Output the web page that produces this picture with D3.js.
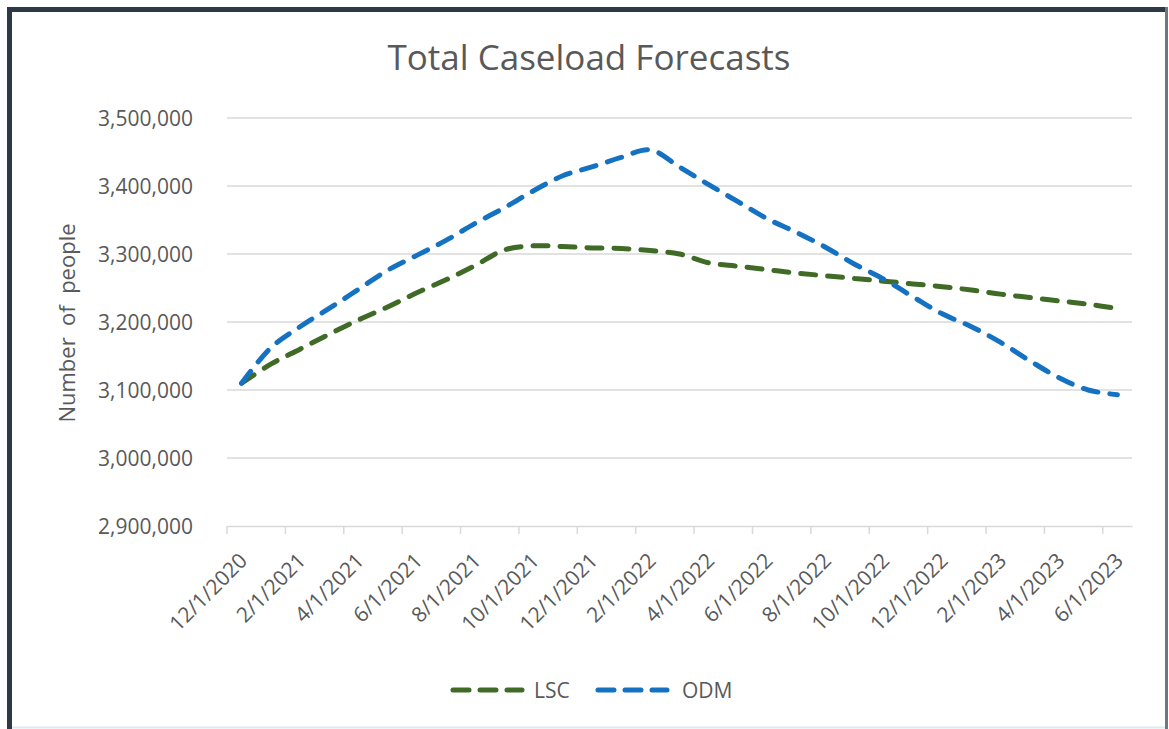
<!DOCTYPE html>
<html>
<head>
<meta charset="utf-8">
<script src="https://cdn.jsdelivr.net/npm/d3@7"></script>
<style>
  body { margin: 0; background: #fff; }
  svg { display: block; font-family: "Open Sans", sans-serif; }
</style>
</head>
<body>
<svg id="chart" width="1169" height="729"></svg>
<script>
// monthly points, Dec 2020 .. Jun 2023
const months = [
  "12/1/2020", "1/1/2021", "2/1/2021", "3/1/2021", "4/1/2021", "5/1/2021", "6/1/2021",
  "7/1/2021", "8/1/2021", "9/1/2021", "10/1/2021", "11/1/2021", "12/1/2021",
  "1/1/2022", "2/1/2022", "3/1/2022", "4/1/2022", "5/1/2022", "6/1/2022",
  "7/1/2022", "8/1/2022", "9/1/2022", "10/1/2022", "11/1/2022", "12/1/2022",
  "1/1/2023", "2/1/2023", "3/1/2023", "4/1/2023", "5/1/2023", "6/1/2023"
];

const lsc = [
  3110000, 3138000, 3160000, 3182000, 3203000, 3222000, 3243000,
  3262000, 3283000, 3306000, 3312000, 3311000, 3309000,
  3308000, 3305000, 3300000, 3287000, 3282000, 3277000,
  3272000, 3268000, 3264000, 3260000, 3256000, 3252000,
  3247000, 3241000, 3236000, 3231000, 3226000, 3220000
];

const odm = [
  3110000, 3162000, 3193000, 3220000, 3248000, 3276000, 3298000,
  3320000, 3345000, 3368000, 3393000, 3415000, 3428000,
  3442000, 3453000, 3428000, 3402000, 3377000, 3352000,
  3332000, 3310000, 3285000, 3263000, 3237000, 3212000,
  3193000, 3170000, 3143000, 3118000, 3100000, 3093000
];

const yTicks = [2900000, 3000000, 3100000, 3200000, 3300000, 3400000, 3500000];

const seriesNames = ["LSC", "ODM"];
const seriesColors = ["#3f6b27", "#1572c2"];

const svg = d3.select("#chart");

// frame of the screenshot
svg.append("rect").attr("x", 7).attr("y", 7).attr("width", 5).attr("height", 722).attr("fill", "#2d3947");
svg.append("rect").attr("x", 7).attr("y", 7).attr("width", 1161).attr("height", 5).attr("fill", "#2d3947");
svg.append("rect").attr("x", 1165).attr("y", 7).attr("width", 3).attr("height", 722).attr("fill", "#6f7780");
svg.append("line").attr("x1", 12).attr("x2", 1165).attr("y1", 727.5).attr("y2", 727.5)
  .attr("stroke", "#dcecf3").attr("stroke-width", 2);

const x = d3.scaleBand().domain(months).range([227, 1132]).padding(0);
const xc = d => x(d) + x.bandwidth() / 2;
const y = d3.scaleLinear().domain([2900000, 3500000]).range([526, 118]);

// gridlines
svg.append("g")
  .selectAll("line")
  .data(yTicks.slice(1))
  .enter()
  .append("line")
  .attr("x1", 227).attr("x2", 1132)
  .attr("y1", d => y(d)).attr("y2", d => y(d))
  .attr("stroke", "#d9d9d9").attr("stroke-width", 1.5);

// y labels
svg.append("g")
  .selectAll("text")
  .data(yTicks)
  .enter()
  .append("text")
  .attr("x", 193)
  .attr("y", d => y(d))
  .attr("dy", "0.36em")
  .attr("text-anchor", "end")
  .attr("font-size", 21)
  .attr("fill", "#595959")
  .text(d => d3.format(",")(d));

// x axis
const xAxis = d3.axisBottom(x)
  .tickValues(months.filter((m, i) => i % 2 === 0))
  .tickSize(8)
  .tickSizeOuter(0);

const gx = svg.append("g").attr("transform", "translate(0,526)").call(xAxis);
gx.select(".domain").attr("stroke", "#d9d9d9").attr("stroke-width", 1.5);
gx.selectAll(".tick line")
  .attr("stroke", "#d9d9d9").attr("stroke-width", 1.5)
  .attr("transform", `translate(${-x.bandwidth() / 2},0)`);
gx.selectAll(".tick text")
  .attr("font-family", "'Open Sans', sans-serif")
  .attr("font-size", 21)
  .attr("fill", "#595959")
  .attr("text-anchor", "end")
  .attr("dy", null)
  .attr("y", 0)
  .attr("transform", "translate(7,36) rotate(-45)");

// lines
const line = d3.line()
  .x((d, i) => xc(months[i]))
  .y(d => y(d))
  .curve(d3.curveCatmullRom.alpha(0.5));

[lsc, odm].forEach((vals, k) => {
  svg.append("path")
    .datum(vals)
    .attr("d", line)
    .attr("fill", "none")
    .attr("stroke", seriesColors[k])
    .attr("stroke-width", 5)
    .attr("stroke-linecap", "round")
    .attr("stroke-dasharray", "15,12");
});

// title
svg.append("text")
  .attr("x", 589).attr("y", 70)
  .attr("text-anchor", "middle")
  .attr("font-size", 35)
  .attr("fill", "#595959")
  .text("Total Caseload Forecasts");

// y axis title
svg.append("text")
  .attr("transform", "translate(75,323) rotate(-90)")
  .attr("text-anchor", "middle")
  .attr("font-size", 22)
  .attr("fill", "#595959")
  .attr("xml:space", "preserve")
  .style("white-space", "pre")
  .text("Number  of  people");

// legend
const legendX = [453, 598];
seriesNames.forEach((name, k) => {
  const g = svg.append("g").attr("transform", `translate(${legendX[k]},690)`);
  g.append("line")
    .attr("x1", 0).attr("x2", 69).attr("y1", 0).attr("y2", 0)
    .attr("stroke", seriesColors[k])
    .attr("stroke-width", 5)
    .attr("stroke-linecap", "round")
    .attr("stroke-dasharray", "16,11");
  g.append("text")
    .attr("x", k === 0 ? 81 : 84).attr("y", 0).attr("dy", "0.36em")
    .attr("font-size", 21)
    .attr("fill", "#595959")
    .text(name);
});
</script>
</body>
</html>
